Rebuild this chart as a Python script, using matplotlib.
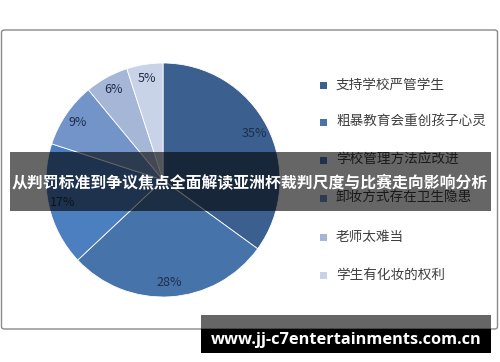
import matplotlib
matplotlib.use("Agg")
import matplotlib.pyplot as plt
from matplotlib.patches import FancyBboxPatch, Rectangle

plt.rcParams['font.family'] = ['Noto Sans CJK SC', 'DejaVu Sans']

# data
labels = ['支持学校严管学生', '粗暴教育会重创孩子心灵', '学校管理方法应改进',
          '卸妆方式存在卫生隐患', '老师太难当', '学生有化妆的权利']
shares = [35, 28, 17, 9, 6, 5]
colors = ['#3b5f8e', '#4673a9', '#4c7fc0', '#7294c8', '#a5b6d6', '#c9d3e7']
title = '从判罚标准到争议焦点全面解读亚洲杯裁判尺度与比赛走向影响分析'
site = 'www.jj-c7entertainments.com.cn'

W, H = 500, 362
fig = plt.figure(figsize=(W / 100, H / 100), dpi=100)
fig.patch.set_facecolor('white')


def fx(px):
    return px / W


def fy(py):
    return 1 - py / H


# chart frame (behind the pie)
frame = FancyBboxPatch((fx(1.5), fy(329)), fx(496), 299 / H,
                       boxstyle='round,pad=0,rounding_size=0.006',
                       transform=fig.transFigure, facecolor='white',
                       edgecolor='#8a8a8a', linewidth=1.0, zorder=-1)
fig.patches.append(frame)

# pie
cx, cy, r = 163, 180, 117
ax = fig.add_axes([fx(cx - r), fy(cy + r), fx(2 * r), 2 * r / H])
ax.patch.set_visible(False)
wedges, texts, autotexts = ax.pie(
    shares, colors=colors, startangle=90, counterclock=False,
    autopct='%d%%', pctdistance=0.88, radius=1,
    wedgeprops={'edgecolor': 'white', 'linewidth': 0.6},
    textprops={'fontsize': 9, 'color': '#1f2d4a'})
ax.set_xlim(-1, 1)
ax.set_ylim(-1, 1)
ax.set_aspect('equal')
ax.axis('off')

# legend
leg_y = [85, 122, 160, 198, 237, 275]
for lab, col, y in zip(labels, colors, leg_y):
    fig.patches.append(Rectangle((fx(320), fy(y + 3.5)), fx(7), 7 / H,
                                 transform=fig.transFigure, facecolor=col,
                                 edgecolor='none'))
    fig.text(fx(336), fy(y), lab, fontsize=9.8, color='#404040',
             va='center', ha='left')

# dark banner with title
fig.patches.append(Rectangle((fx(10), fy(211)), fx(481), 59 / H,
                             transform=fig.transFigure, facecolor='black',
                             alpha=0.6, edgecolor='none', zorder=5))
fig.text(fx(250), fy(182), title, fontsize=11.4, fontweight='bold',
         color='white', ha='center', va='center', zorder=6)

# watermark box
fig.patches.append(Rectangle((fx(201), fy(329)), fx(290), 14 / H,
                             transform=fig.transFigure, facecolor='black',
                             alpha=0.6, edgecolor='none', zorder=5))
fig.patches.append(Rectangle((fx(201), fy(353)), fx(290), 24 / H,
                             transform=fig.transFigure, facecolor='black',
                             edgecolor='none', zorder=5))
fig.text(fx(346), fy(340), site, fontsize=11.8, fontweight='bold',
         color='white', ha='center', va='center', zorder=6,
         family=['Open Sans', 'DejaVu Sans'])

fig.savefig('out.png', dpi=100)
